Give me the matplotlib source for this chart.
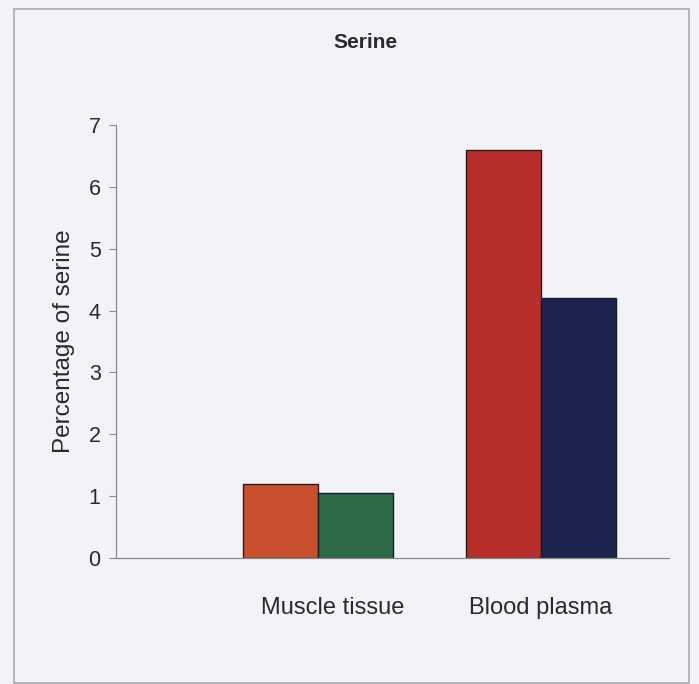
import numpy as np
import matplotlib.pyplot as plt
from matplotlib.patches import Rectangle
from matplotlib.transforms import ScaledTranslation

plt.rcParams['font.family'] = ['Liberation Sans', 'DejaVu Sans']

# Serine share in each sample type, two measurements per group
groups = ['Muscle tissue', 'Blood plasma']
first_vals = [1.2, 6.6]
second_vals = [1.05, 4.2]
first_colors = ['#C8502F', '#B82E2A']
second_colors = ['#2E6A46', '#1C244F']

W, H = 699, 684
fig = plt.figure(figsize=(W / 100, H / 100), dpi=100)
fig.patch.set_facecolor('#F1F3F6')

# thin frame round the whole chart area
fig.patches.append(Rectangle((14 / W, 1 - 683 / H), 675 / W, 674 / H,
                             transform=fig.transFigure, fill=False,
                             edgecolor='#A8AAAE', linewidth=1.2))

ax = fig.add_axes([116 / W, 1 - 558 / H, 553 / W, 433 / H])
ax.set_facecolor('none')

x = np.arange(len(groups))
w = 0.336
ax.bar(x - w / 2, first_vals, w, color=first_colors, edgecolor='#2A1A1A', linewidth=1)
ax.bar(x + w / 2, second_vals, w, color=second_colors, edgecolor='#1A1A2A', linewidth=1)

ax.set_xlim(-0.906, 1.574)
ax.set_ylim(0, 7)
ax.set_yticks(range(0, 8))
ax.set_xticks(x)
ax.set_xticklabels(groups, fontsize=17, color='#2A2A2A')
ax.tick_params(axis='x', length=0, pad=28)
ax.tick_params(axis='y', length=5, width=0.8, color='#8A8A8A',
               labelsize=15.5, labelcolor='#2A2A2A', pad=6)

# first category label sits a little right of its bars
lbl = ax.get_xticklabels()[0]
lbl.set_transform(lbl.get_transform() + ScaledTranslation(0.15, 0, fig.dpi_scale_trans))

for side in ['top', 'right']:
    ax.spines[side].set_visible(False)
for side in ['left', 'bottom']:
    ax.spines[side].set_color('#8A8A8A')
    ax.spines[side].set_linewidth(0.9)

ax.set_ylabel('Percentage of serine', fontsize=17.5, color='#2A2A2A', labelpad=10)

fig.text(365 / W, 1 - 43 / H, 'Serine', ha='center', va='center',
         fontsize=15, fontweight='bold', color='#2A2A2A')

fig.savefig('out.png', dpi=100, facecolor=fig.get_facecolor())
